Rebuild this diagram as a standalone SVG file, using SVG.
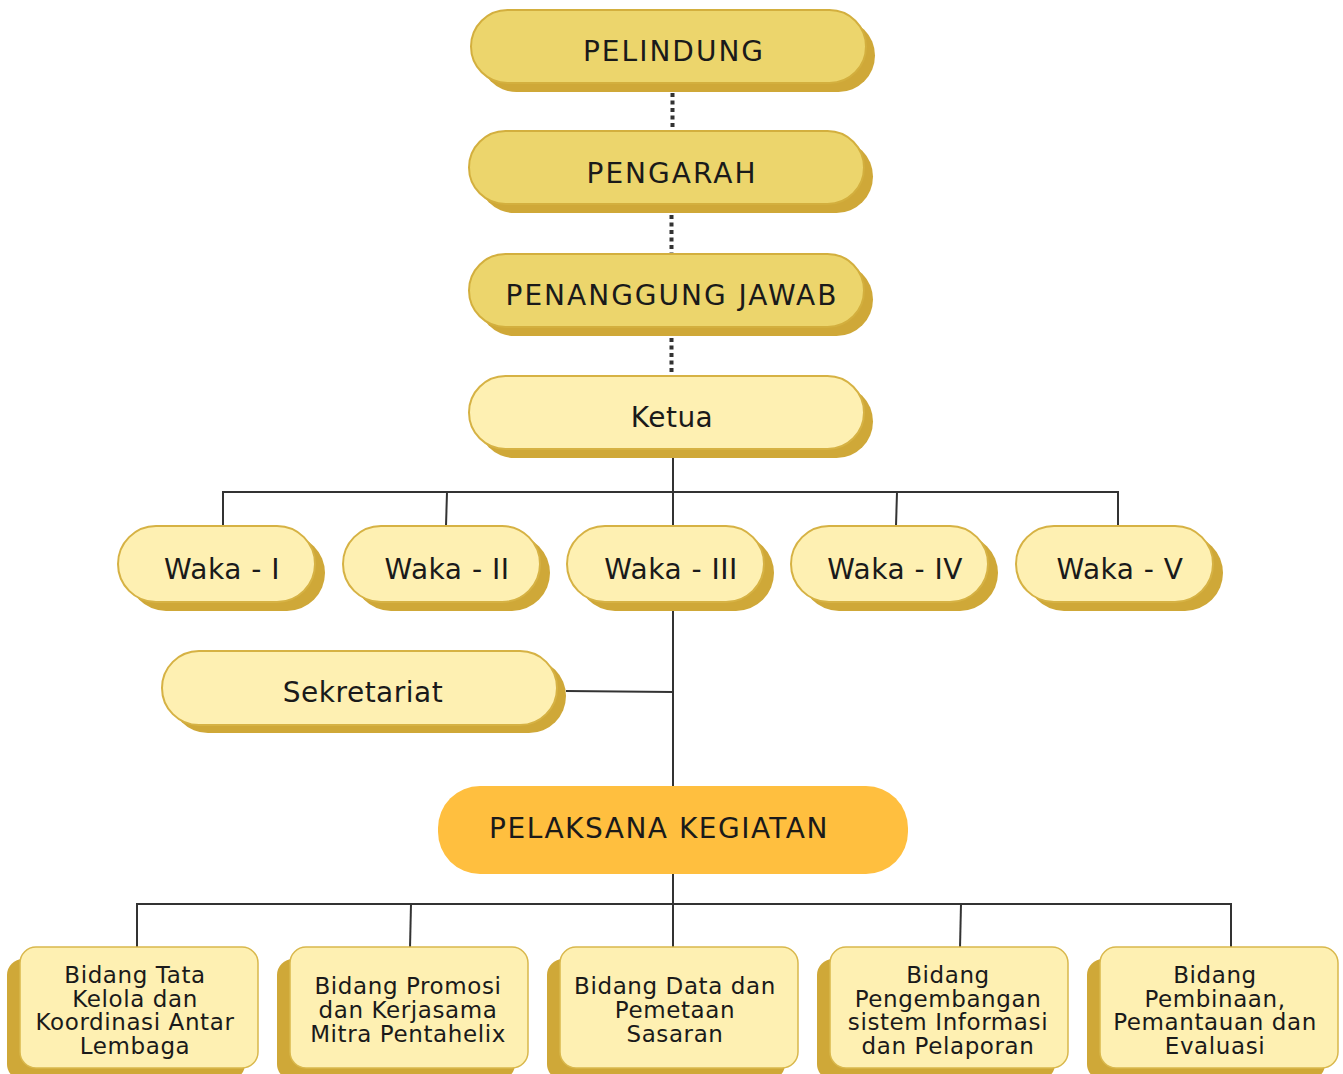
<svg xmlns="http://www.w3.org/2000/svg" width="1343" height="1074" viewBox="0 0 1343 1074">
<style>
.sh{fill:#CFA838}
.top{fill:#ECD56C;stroke:#D3AF3E;stroke-width:2}
.lt{fill:#FEF0B2;stroke:#D6B244;stroke-width:2}
.bt{fill:#FEF0B2;stroke:#D9B84C;stroke-width:1.5}
.pk{fill:#FFBF3F}
.t{font-family:"DejaVu Sans","Liberation Sans",sans-serif;fill:#1a1a1a;text-anchor:middle}
.tt{font-size:28px;letter-spacing:2px}
.tw{font-size:28px;letter-spacing:0.5px}
.tb{font-size:23px;letter-spacing:0.6px}
.ln{stroke:#333;stroke-width:2;fill:none}
.dt{stroke:#333;stroke-width:4;stroke-dasharray:4 3.5;fill:none}
</style>
<rect width="1343" height="1074" fill="#fff"/>
<g id="connectors">
<line class="dt" x1="672.5" y1="93" x2="672.5" y2="130"/>
<line class="dt" x1="671.5" y1="215" x2="671.5" y2="253"/>
<line class="dt" x1="671.5" y1="338" x2="671.5" y2="375"/>
<polyline class="ln" points="673,458 673,526"/>
<polyline class="ln" points="223,526 223,492 1118,492 1118,526"/>
<line class="ln" x1="447" y1="492" x2="446" y2="526"/>
<line class="ln" x1="897" y1="492" x2="896" y2="526"/>
<line class="ln" x1="673" y1="611" x2="673" y2="786"/>
<line class="ln" x1="566" y1="691" x2="673" y2="692"/>
<line class="ln" x1="673" y1="874" x2="673" y2="948"/>
<polyline class="ln" points="137,948 137,904 1231,904 1231,948"/>
<line class="ln" x1="411" y1="904" x2="410" y2="948"/>
<line class="ln" x1="961" y1="904" x2="960" y2="948"/>
</g>
<g id="pelindung">
<rect class="sh" x="480" y="19" width="395" height="73" rx="36.5"/>
<rect class="top" x="471" y="10" width="395" height="73" rx="36.5"/>
<text class="t tt" x="674" y="61">PELINDUNG</text>
</g>
<g id="pengarah">
<rect class="sh" x="478" y="140" width="395" height="73" rx="36.5"/>
<rect class="top" x="469" y="131" width="395" height="73" rx="36.5"/>
<text class="t tt" x="672" y="183">PENGARAH</text>
</g>
<g id="penanggung-jawab">
<rect class="sh" x="478" y="263" width="395" height="73" rx="36.5"/>
<rect class="top" x="469" y="254" width="395" height="73" rx="36.5"/>
<text class="t tt" x="672" y="305">PENANGGUNG JAWAB</text>
</g>
<g id="ketua">
<rect class="sh" x="478" y="385" width="395" height="73" rx="36.5"/>
<rect class="lt" x="469" y="376" width="395" height="73" rx="36.5"/>
<text class="t tw" x="672" y="427">Ketua</text>
</g>
<g id="waka-1">
<rect class="sh" x="128" y="535" width="197" height="76" rx="38"/>
<rect class="lt" x="118" y="526" width="197" height="76" rx="38"/>
<text class="t tw" x="222" y="579">Waka - I</text>
</g>
<g id="waka-2">
<rect class="sh" x="353" y="535" width="197" height="76" rx="38"/>
<rect class="lt" x="343" y="526" width="197" height="76" rx="38"/>
<text class="t tw" x="447" y="579">Waka - II</text>
</g>
<g id="waka-3">
<rect class="sh" x="577" y="535" width="197" height="76" rx="38"/>
<rect class="lt" x="567" y="526" width="197" height="76" rx="38"/>
<text class="t tw" x="671" y="579">Waka - III</text>
</g>
<g id="waka-4">
<rect class="sh" x="801" y="535" width="197" height="76" rx="38"/>
<rect class="lt" x="791" y="526" width="197" height="76" rx="38"/>
<text class="t tw" x="895" y="579">Waka - IV</text>
</g>
<g id="waka-5">
<rect class="sh" x="1026" y="535" width="197" height="76" rx="38"/>
<rect class="lt" x="1016" y="526" width="197" height="76" rx="38"/>
<text class="t tw" x="1120" y="579">Waka - V</text>
</g>
<g id="sekretariat">
<rect class="sh" x="171" y="659" width="395" height="74" rx="37"/>
<rect class="lt" x="162" y="651" width="395" height="74" rx="37"/>
<text class="t tw" x="363" y="702">Sekretariat</text>
</g>
<g id="pelaksana-kegiatan">
<rect class="pk" x="438" y="786" width="470" height="88" rx="42"/>
<text class="t" x="659" y="838" style="font-size:28px;letter-spacing:1.5px">PELAKSANA KEGIATAN</text>
</g>
<g id="bidang-1">
<rect class="sh" x="7" y="959" width="238" height="121" rx="16"/>
<rect class="bt" x="20" y="947" width="238" height="121" rx="16"/>
<text class="t tb" x="135" y="983">Bidang Tata</text>
<text class="t tb" x="135" y="1006.5">Kelola dan</text>
<text class="t tb" x="135" y="1030">Koordinasi Antar</text>
<text class="t tb" x="135" y="1053.5">Lembaga</text>
</g>
<g id="bidang-2">
<rect class="sh" x="277" y="959" width="238" height="121" rx="16"/>
<rect class="bt" x="290" y="947" width="238" height="121" rx="16"/>
<text class="t tb" x="408" y="994">Bidang Promosi</text>
<text class="t tb" x="408" y="1018">dan Kerjasama</text>
<text class="t tb" x="408" y="1042">Mitra Pentahelix</text>
</g>
<g id="bidang-3">
<rect class="sh" x="547" y="959" width="238" height="121" rx="16"/>
<rect class="bt" x="560" y="947" width="238" height="121" rx="16"/>
<text class="t tb" x="675" y="994">Bidang Data dan</text>
<text class="t tb" x="675" y="1018">Pemetaan</text>
<text class="t tb" x="675" y="1042">Sasaran</text>
</g>
<g id="bidang-4">
<rect class="sh" x="817" y="959" width="238" height="121" rx="16"/>
<rect class="bt" x="830" y="947" width="238" height="121" rx="16"/>
<text class="t tb" x="948" y="983">Bidang</text>
<text class="t tb" x="948" y="1006.5">Pengembangan</text>
<text class="t tb" x="948" y="1030">sistem Informasi</text>
<text class="t tb" x="948" y="1053.5">dan Pelaporan</text>
</g>
<g id="bidang-5">
<rect class="sh" x="1087" y="959" width="238" height="121" rx="16"/>
<rect class="bt" x="1100" y="947" width="238" height="121" rx="16"/>
<text class="t tb" x="1215" y="983">Bidang</text>
<text class="t tb" x="1215" y="1006.5">Pembinaan,</text>
<text class="t tb" x="1215" y="1030">Pemantauan dan</text>
<text class="t tb" x="1215" y="1053.5">Evaluasi</text>
</g>
</svg>
